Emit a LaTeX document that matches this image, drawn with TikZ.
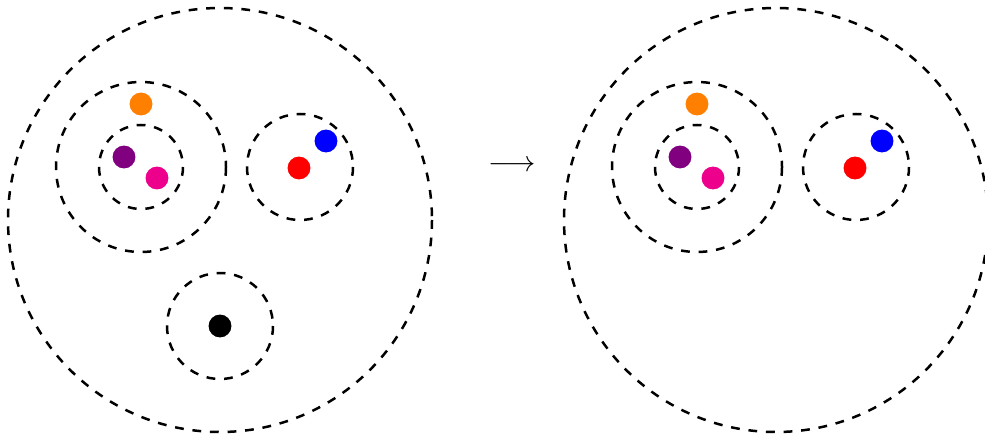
\documentclass[tikz,border=0pt]{standalone}
\begin{document}
\begin{tikzpicture}[x=0.341pt,y=-0.341pt,
  ring/.style={draw=black,dashed,line width=0.85pt},
  dot/.style={circle,fill=#1,inner sep=0pt,minimum size=7.8pt}]
\definecolor{dorange}{RGB}{255,128,0}
\definecolor{dpurple}{RGB}{128,0,128}
\definecolor{dpink}{RGB}{236,0,140}
\useasboundingbox (0,0) rectangle (985,436);
% left
\draw[ring] (220,220) circle[radius=212];
\draw[ring] (141,167) circle[radius=85];
\draw[ring] (141,167) circle[radius=42];
\draw[ring] (300,167) circle[radius=53];
\draw[ring] (220,326) circle[radius=53];
\node[dot=dorange] (lo) at (141,104) {};
\node[dot=dpurple] (lp) at (124,157) {};
\node[dot=dpink] (lk) at (157,178) {};
\node[dot=red] (lr) at (299,168) {};
\node[dot=blue] (lb) at (326,141) {};
\node[dot=black] (lx) at (220,326) {};
% arrow
\node (arr) at (512,166) {$\longrightarrow$};
% right
\draw[ring] (776,220) circle[radius=212];
\draw[ring] (697,167) circle[radius=85];
\draw[ring] (697,167) circle[radius=42];
\draw[ring] (856,167) circle[radius=53];
\node[dot=dorange] (ro) at (697,104) {};
\node[dot=dpurple] (rp) at (680,157) {};
\node[dot=dpink] (rk) at (713,178) {};
\node[dot=red] (rr) at (855,168) {};
\node[dot=blue] (rb) at (882,141) {};
\end{tikzpicture}
\end{document}
